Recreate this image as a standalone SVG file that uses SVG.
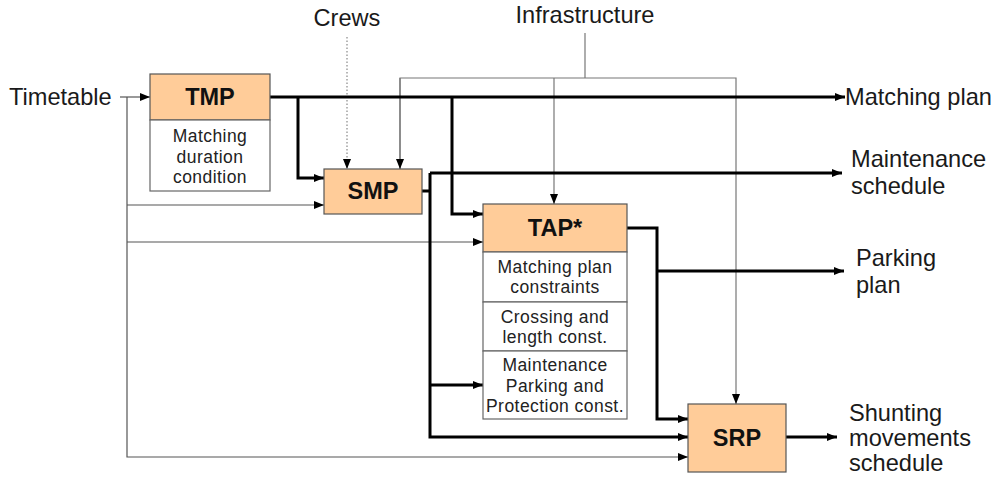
<svg xmlns="http://www.w3.org/2000/svg" width="995" height="479" viewBox="0 0 995 479">
<style>
.bg{fill:#ffffff}
.hdr{fill:#ffcc99;stroke:#555;stroke-width:1.2}
.body{fill:#ffffff;stroke:#666;stroke-width:1.2}
.lbl{font-family:"Liberation Sans",Arial,sans-serif;font-size:23.6px;fill:#1a1a1a}
.ttl{font-family:"Liberation Sans",Arial,sans-serif;font-size:23.5px;font-weight:bold;fill:#111;text-anchor:middle}
.sm{font-family:"Liberation Sans",Arial,sans-serif;font-size:17.5px;letter-spacing:0.45px;fill:#222;text-anchor:middle}
.thick{fill:none;stroke:#000;stroke-width:3}
.thin{fill:none;stroke:#555;stroke-width:1.2}
.grey{fill:none;stroke:#777;stroke-width:1.2}
.dot{fill:none;stroke:#888;stroke-width:1.2;stroke-dasharray:1.5 2}
</style>
<defs>
<marker id="ah" markerUnits="userSpaceOnUse" markerWidth="11" markerHeight="8" refX="10" refY="4" orient="auto">
<path d="M0,0 L10,4 L0,8 Z" fill="#000"/>
</marker>
</defs>
<rect class="bg" x="0" y="0" width="995" height="479"/>
<g id="connectors">
<path class="thin" d="M120,97 H150" marker-end="url(#ah)"/>
<path class="thin" d="M127,97 V457 H688" marker-end="url(#ah)"/>
<path class="thin" d="M127,205 H324" marker-end="url(#ah)"/>
<path class="thin" d="M127,242 H483" marker-end="url(#ah)"/>
<path class="dot" d="M347,37 V169" marker-end="url(#ah)"/>
<path class="grey" d="M585,33 V78"/>
<path class="grey" d="M400,169 V78 H736 V404" marker-end="url(#ah)"/>
<path class="grey" d="M400,78 V169" marker-end="url(#ah)"/>
<path class="grey" d="M554,78 V204" marker-end="url(#ah)"/>
<path class="thick" d="M270,97 H845" marker-end="url(#ah)"/>
<path class="thick" d="M298,97 V178 H324" marker-end="url(#ah)"/>
<path class="thick" d="M452,97 V214 H483" marker-end="url(#ah)"/>
<path class="thick" d="M422,191 H430"/>
<path class="thick" d="M430,173 H842" marker-end="url(#ah)"/>
<path class="thick" d="M430,173 V437 H688" marker-end="url(#ah)"/>
<path class="thick" d="M430,385 H483" marker-end="url(#ah)"/>
<path class="thick" d="M627,228 H657 V419 H688" marker-end="url(#ah)"/>
<path class="thick" d="M657,271 H844" marker-end="url(#ah)"/>
<path class="thick" d="M786,437 H837" marker-end="url(#ah)"/>
</g>
<g id="TMP">
<rect class="hdr" x="150" y="74" width="120" height="46"/>
<rect class="body" x="150" y="120" width="120" height="71"/>
<text class="ttl" x="210" y="105">TMP</text>
<text class="sm" x="210" y="142">Matching</text>
<text class="sm" x="210" y="162.5">duration</text>
<text class="sm" x="210" y="183">condition</text>
</g>
<g id="SMP">
<rect class="hdr" x="324" y="169" width="98" height="45"/>
<text class="ttl" x="373" y="199">SMP</text>
</g>
<g id="TAP">
<rect class="hdr" x="483" y="204" width="144" height="48"/>
<rect class="body" x="483" y="252" width="144" height="50"/>
<rect class="body" x="483" y="302" width="144" height="49"/>
<rect class="body" x="483" y="351" width="144" height="68"/>
<text class="ttl" x="555" y="236">TAP*</text>
<text class="sm" x="555" y="272.5">Matching plan</text>
<text class="sm" x="555" y="293">constraints</text>
<text class="sm" x="555" y="322.5">Crossing and</text>
<text class="sm" x="555" y="343">length const.</text>
<text class="sm" x="555" y="371">Maintenance</text>
<text class="sm" x="555" y="391.5">Parking and</text>
<text class="sm" x="555" y="412">Protection const.</text>
</g>
<g id="SRP">
<rect class="hdr" x="688" y="404" width="98" height="68"/>
<text class="ttl" x="737" y="446">SRP</text>
</g>
<g id="labels">
<text class="lbl" x="9" y="105">Timetable</text>
<text class="lbl" x="347" y="26" text-anchor="middle">Crews</text>
<text class="lbl" x="585" y="22.5" text-anchor="middle">Infrastructure</text>
<text class="lbl" x="845" y="105">Matching plan</text>
<text class="lbl" x="851" y="167">Maintenance</text>
<text class="lbl" x="851" y="194">schedule</text>
<text class="lbl" x="856" y="266">Parking</text>
<text class="lbl" x="856" y="293">plan</text>
<text class="lbl" x="849" y="421">Shunting</text>
<text class="lbl" x="849" y="446">movements</text>
<text class="lbl" x="849" y="471">schedule</text>
</g>
</svg>
